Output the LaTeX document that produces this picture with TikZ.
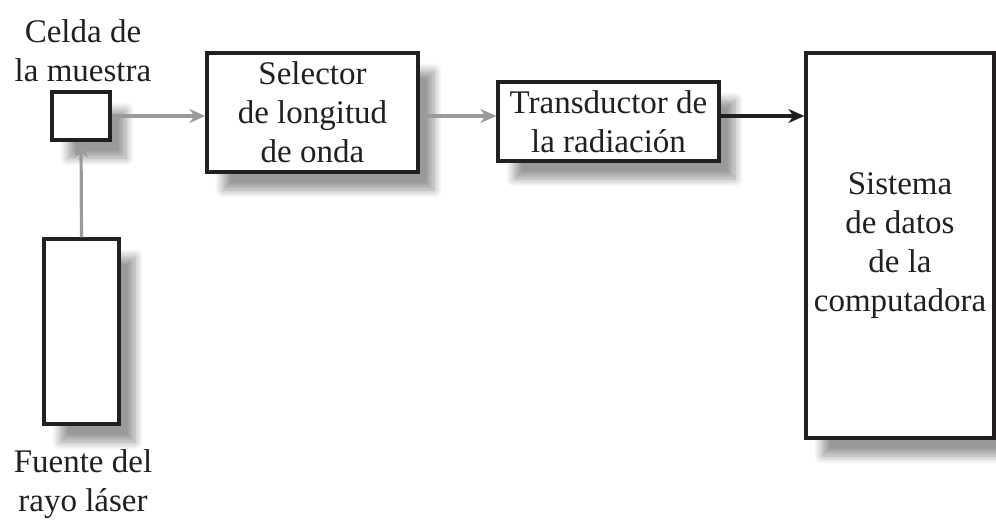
\documentclass[tikz,border=0pt]{standalone}
\usepackage{fontspec}
\setmainfont{Liberation Serif}
\usetikzlibrary{shadows.blur,arrows.meta}
\definecolor{ink}{HTML}{231F20}
\definecolor{arrowgray}{HTML}{9A9A9C}
\tikzset{
  box/.style={draw=ink, line width=3.2pt, fill=white, inner sep=0pt, align=center,
    font=\fontsize{33}{39}\selectfont, text=ink,
    blur shadow={shadow xshift=16pt, shadow yshift=-18pt, shadow blur steps=10,
      shadow blur radius=8pt, shadow blur extra rounding=0pt, shadow opacity=40}},
  lbl/.style={align=center, inner sep=0pt, font=\fontsize{33}{39}\selectfont, text=ink},
  garrow/.style={draw=arrowgray, line width=3.2pt, -{Stealth[length=16pt,width=14pt,inset=5pt]}},
  barrow/.style={draw=ink, line width=3.2pt, -{Stealth[length=16pt,width=14pt,inset=5pt]}}
}
\begin{document}
\begin{tikzpicture}[x=1pt,y=-1pt]
\useasboundingbox (0,0) rectangle (996,520);
\node[box, minimum width=58pt, minimum height=48pt] (cell) at (81,116) {};
\node[box, minimum width=211pt, minimum height=119pt] (sel) at (312.5,112.5) {Selector\\de longitud\\de onda};
\node[box, minimum width=221pt, minimum height=79pt] (trans) at (608.5,121.5) {Transductor de\\la radiación};
\node[box, minimum width=188pt, minimum height=385pt] (sys) at (900,245.5) {Sistema\\de datos\\de la\\computadora};
\node[box, minimum width=75pt, minimum height=185pt] (laser) at (81.5,331.5) {};
\node[lbl] (lcell) at (83,51) {Celda de\\la muestra};
\node[lbl] (llaser) at (83,484) {Fuente del\\rayo láser};
\draw[garrow] (cell.east) -- (cell.east -| sel.west);
\draw[garrow] (sel.east |- cell.east) -- (cell.east -| trans.west);
\draw[barrow] (trans.east |- cell.east) -- (cell.east -| sys.west);
\draw[garrow] (laser.north) -- (cell.south);
\end{tikzpicture}
\end{document}
